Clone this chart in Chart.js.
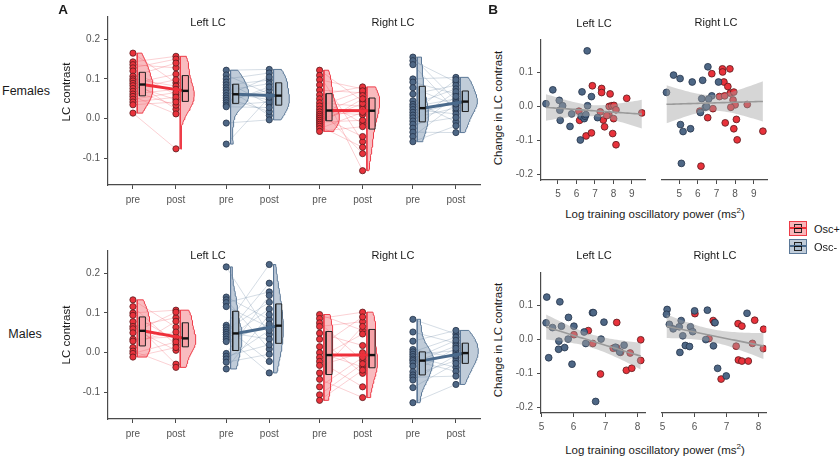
<!DOCTYPE html>
<html>
<head>
<meta charset="utf-8">
<script src="https://cdn.jsdelivr.net/npm/chart.js@4.4.1/dist/chart.umd.min.js"></script>
<style>
body { margin: 0; width: 840px; height: 459px; background: #fff; position: relative; overflow: hidden;
       font-family: "Liberation Sans", Arial, sans-serif; color: #1a1a1a; }
canvas { position: absolute; }
.t { position: absolute; white-space: nowrap; transform: translate(-50%, -50%); }
.r { transform: translate(-50%, -50%) rotate(-90deg); }
.l { position: absolute; white-space: nowrap; transform: translate(0, -50%); }
.facet { font-size: 11px; }
.ax { font-size: 11.5px; }
.tag { font-weight: bold; font-size: 13.5px; }
</style>
</head>
<body>
<canvas id="aTop" width="425" height="215" style="left:60px;top:0px"></canvas>
<canvas id="aBot" width="425" height="215" style="left:60px;top:234px"></canvas>
<canvas id="bTL" width="145" height="172" style="left:505px;top:30px"></canvas>
<canvas id="bTR" width="117" height="172" style="left:655px;top:30px"></canvas>
<canvas id="bBL" width="145" height="172" style="left:505px;top:263px"></canvas>
<canvas id="bBR" width="116" height="172" style="left:655px;top:263px"></canvas>

<div class="t tag" style="left:63px;top:9px">A</div>
<div class="t tag" style="left:493px;top:9px">B</div>
<div class="t" style="left:26px;top:91px;font-size:12.5px">Females</div>
<div class="t" style="left:25px;top:334px;font-size:12.5px">Males</div>
<div class="t r ax" style="left:66px;top:92px">LC contrast</div>
<div class="t r ax" style="left:66px;top:335px">LC contrast</div>
<div class="t facet" style="left:208px;top:22px">Left LC</div>
<div class="t facet" style="left:393px;top:22px">Right LC</div>
<div class="t facet" style="left:208px;top:255px">Left LC</div>
<div class="t facet" style="left:393px;top:255px">Right LC</div>
<div class="t facet" style="left:594px;top:23px">Left LC</div>
<div class="t facet" style="left:716px;top:22px">Right LC</div>
<div class="t facet" style="left:594px;top:255px">Left LC</div>
<div class="t facet" style="left:715px;top:255px">Right LC</div>
<div class="t r ax" style="left:498px;top:108px">Change in LC contrast</div>
<div class="t r ax" style="left:498px;top:340px">Change in LC contrast</div>
<div class="t ax" style="left:655px;top:213px">Log training oscillatory power (ms<sup style="font-size:8px">2</sup>)</div>
<div class="t ax" style="left:655px;top:449px">Log training oscillatory power (ms<sup style="font-size:8px">2</sup>)</div>

<div style="position:absolute;left:789px;top:221px;width:18px;height:15px;box-sizing:border-box;background:rgba(244,120,128,0.55);border:1px solid #ee3b47">
  <div style="position:absolute;left:4px;top:2px;width:8px;height:9px;box-sizing:border-box;border:1px solid #222;background:rgba(246,160,165,0.9)"></div>
  <div style="position:absolute;left:0px;top:5px;width:16px;height:2px;background:#ef2f3a"></div>
  <div style="position:absolute;left:4px;top:6px;width:8px;height:1px;background:#111"></div>
</div>
<div style="position:absolute;left:789px;top:239px;width:18px;height:15px;box-sizing:border-box;background:rgba(140,162,186,0.55);border:1px solid #5b7897">
  <div style="position:absolute;left:4px;top:2px;width:8px;height:9px;box-sizing:border-box;border:1px solid #222;background:rgba(170,187,205,0.9)"></div>
  <div style="position:absolute;left:0px;top:5px;width:16px;height:2px;background:#4a6a8c"></div>
  <div style="position:absolute;left:4px;top:6px;width:8px;height:1px;background:#111"></div>
</div>
<div class="l" style="left:814px;top:229px;font-size:11px">Osc+</div>
<div class="l" style="left:814px;top:247px;font-size:11px">Osc-</div>

<script>
// ---- panel A: LC contrast, pre / post, per subject (post listed in the same subject order as pre)
const femLeftPlusPre   = [0.165, 0.143, 0.136, 0.128, 0.120, 0.107, 0.100, 0.095, 0.089, 0.083, 0.076, 0.069, 0.062, 0.056, 0.049, 0.042, 0.035, 0.014];
const femLeftPlusPost  = [0.090, 0.157, 0.128, 0.150, 0.060, 0.140, 0.082, 0.024, 0.112, 0.048, 0.098, 0.034, 0.074, 0.012, 0.066, 0.054, 0.042, -0.076];
const femLeftMinusPre  = [0.122, 0.110, 0.100, 0.092, 0.085, 0.078, 0.072, 0.065, 0.058, 0.052, 0.046, 0.040, 0.034, 0.030, -0.011, -0.064];
const femLeftMinusPost = [0.124, 0.062, 0.115, 0.036, 0.097, 0.008, 0.088, 0.048, 0.105, 0.018, 0.072, 0.080, 0.042, 0.028, -0.003, 0.054];
const femRightPlusPre  = [0.122, 0.109, 0.098, 0.085, 0.072, 0.060, 0.050, 0.040, 0.032, 0.024, 0.017, 0.011, 0.006, 0.001, -0.004, -0.009, -0.014, -0.019, -0.025, -0.032];
const femRightPlusPost = [0.044, -0.058, 0.075, -0.131, 0.065, 0.080, -0.012, 0.031, 0.070, -0.088, 0.010, 0.058, -0.045, 0.024, 0.038, -0.004, 0.050, -0.072, 0.016, -0.020];
const femRightMinusPre = [0.155, 0.146, 0.136, 0.100, 0.092, 0.078, 0.062, 0.045, 0.036, 0.030, 0.023, 0.016, 0.009, 0.002, -0.006, -0.014, -0.024, -0.034, -0.045, -0.058];
const femRightMinusPost= [0.045, 0.092, 0.020, 0.104, 0.062, 0.033, 0.084, -0.008, 0.075, 0.050, 0.012, 0.098, 0.041, 0.027, 0.068, 0.003, 0.056, -0.035, 0.037, -0.018];

const malLeftPlusPre   = [0.133, 0.116, 0.100, 0.094, 0.078, 0.066, 0.060, 0.050, 0.034, 0.029, 0.013, 0.004, -0.002, -0.011];
const malLeftPlusPost  = [0.064, 0.020, 0.107, 0.032, -0.029, 0.088, 0.006, 0.102, 0.040, 0.052, 0.079, -0.037, 0.027, 0.013];
const malLeftMinusPre  = [0.216, 0.140, 0.133, 0.126, 0.116, 0.069, 0.063, 0.057, 0.051, 0.046, 0.040, 0.034, 0.028, -0.002, -0.009, -0.016, -0.024, -0.041];
const malLeftMinusPost = [0.046, 0.084, 0.009, 0.153, 0.064, 0.222, -0.022, 0.127, 0.034, 0.175, -0.051, 0.110, 0.072, 0.144, 0.020, 0.056, -0.004, 0.096];
const malRightPlusPre  = [0.096, 0.086, 0.075, 0.066, 0.049, 0.034, 0.015, 0.000, -0.012, -0.022, -0.032, -0.051, -0.067, -0.086, -0.106, -0.120];
const malRightPlusPost = [0.056, 0.102, -0.020, 0.078, 0.018, -0.052, 0.090, -0.036, 0.047, -0.086, 0.000, 0.066, -0.113, -0.012, -0.028, -0.044];
const malRightMinusPre = [0.084, 0.052, 0.029, 0.008, 0.002, -0.004, -0.010, -0.016, -0.020, -0.026, -0.034, -0.048, -0.056, -0.062, -0.069, -0.088, -0.126];
const malRightMinusPost= [0.047, 0.024, 0.056, -0.013, 0.039, 0.005, -0.037, 0.031, -0.047, 0.017, -0.001, 0.011, -0.020, -0.059, -0.007, -0.027, -0.080];

// ---- panel B: log training oscillatory power vs change in LC contrast
const femLeftPlusPow  = [6.13, 6.17, 6.52, 6.81, 6.86, 7.36, 7.36, 7.45, 7.52, 7.75, 7.82, 7.77, 7.91, 8.03, 8.01, 7.96, 8.14, 8.14, 8.72, 9.54, 7.29, 7.64];
const femLeftPlusChg  = [-0.014, -0.041, -0.087, -0.078, 0.061, 0.053, 0.041, -0.040, -0.060, -0.024, 0.037, 0.000, 0.002, 0.003, -0.036, -0.080, -0.113, -0.010, 0.024, -0.019, -0.016, -0.027];
const femLeftMinusPow = [4.35, 4.72, 5.07, 5.10, 5.25, 5.12, 5.65, 5.74, 6.21, 6.30, 6.58, 6.26, 6.42, 6.47, 6.60, 6.81, 6.51, 7.14];
const femLeftMinusChg = [0.008, 0.049, 0.018, -0.011, 0.002, -0.041, -0.059, -0.022, -0.099, 0.043, 0.164, -0.029, -0.036, -0.029, 0.002, 0.029, -0.024, -0.033];
const femRightPlusPow = [6.75, 7.32, 7.33, 7.72, 7.40, 7.61, 7.74, 7.93, 7.16, 7.44, 7.89, 8.00, 7.77, 8.65, 6.81, 6.11, 6.53, 7.47, 8.07, 7.93, 8.11, 9.49, 6.17];
const femRightPlusChg = [0.090, 0.104, 0.095, 0.104, 0.066, 0.053, 0.034, 0.037, 0.024, 0.026, 0.014, 0.000, -0.007, 0.001, -0.011, -0.018, -0.037, -0.052, -0.042, -0.069, -0.101, -0.076, -0.177];
const femRightMinusPow= [4.32, 4.70, 5.05, 5.70, 6.26, 6.54, 6.75, 6.58, 6.21, 6.40, 6.47, 6.14, 7.11, 5.07, 5.21, 5.61, 5.12];
const femRightMinusChg= [0.036, 0.086, 0.076, 0.066, 0.071, 0.110, 0.026, 0.017, 0.018, -0.007, -0.005, -0.022, 0.066, -0.057, -0.077, -0.069, -0.169];

const malLeftPlusPow  = [6.01, 6.46, 6.60, 6.84, 7.35, 7.24, 7.35, 7.47, 7.65, 7.77, 7.82, 8.10, 8.10];
const malLeftPlusChg  = [0.014, 0.026, -0.012, -0.102, 0.050, -0.026, -0.025, -0.038, -0.091, -0.040, -0.085, -0.001, -0.062];
const malLeftMinusPow = [5.16, 5.14, 5.22, 5.34, 5.57, 5.54, 5.53, 5.62, 5.72, 5.84, 5.83, 5.95, 6.01, 6.33, 6.38, 6.59, 6.62, 6.69, 6.86, 6.95, 7.31, 7.44, 7.58];
const malLeftMinusChg = [0.125, 0.049, -0.054, 0.035, 0.111, -0.005, -0.029, 0.039, -0.024, 0.065, 0.001, -0.073, 0.039, 0.022, -0.012, 0.079, 0.079, -0.183, 0.001, 0.051, -0.023, -0.037, -0.017];
const malRightPlusPow = [6.01, 6.45, 6.58, 6.62, 6.83, 7.36, 7.48, 7.30, 7.37, 7.48, 7.68, 7.88, 7.81, 8.16, 8.15];
const malRightPlusChg = [0.070, -0.002, 0.050, 0.044, -0.119, 0.041, 0.034, -0.024, -0.064, -0.067, -0.067, 0.051, -0.016, 0.025, -0.031];
const malRightMinusPow= [5.14, 5.12, 5.21, 5.33, 5.52, 5.58, 5.63, 5.54, 5.71, 5.84, 5.87, 5.94, 6.00, 6.40, 6.35, 6.59, 6.64, 6.72, 6.99, 7.64];
const malRightMinusChg= [0.082, 0.068, 0.039, 0.026, 0.032, 0.050, 0.006, -0.042, -0.022, -0.025, 0.032, 0.018, 0.078, 0.080, -0.005, -0.023, 0.044, -0.088, -0.110, 0.071];

// ---- axes
const sessionLabels = ["pre", "post", "pre", "post", "pre", "post", "pre", "post"];
const sessionPos = [0, 1, 2.17, 3.17, 4.34, 5.34, 6.51, 7.51];
const contrastTicks = [-0.1, 0.0, 0.1, 0.2];
const changeTicks = [-0.2, -0.1, 0.0, 0.1];
const powerTicksTop = [5, 6, 7, 8, 9];
const powerTicksBottom = [5, 6, 7, 8];

const RED = { pt: "#e8323b", ptBorder: "#5b1b1d", pair: "rgba(238,70,80,0.28)", mean: "#ef2f3a",
              vFill: "rgba(244,120,128,0.5)", vBorder: "#ee3b47", box: "rgba(246,160,165,0.9)" };
const BLUE = { pt: "#4e6785", ptBorder: "#24344a", pair: "rgba(100,128,160,0.30)", mean: "#4a6a8c",
               vFill: "rgba(140,162,186,0.55)", vBorder: "#5b7897", box: "rgba(170,187,205,0.9)" };

const FONT = "'Liberation Sans', Arial, sans-serif";
const AXIS = "#4a4a4a";
Chart.defaults.font.family = FONT;

function quantile(arr, p) {
    const s = [...arr].sort((a, b) => a - b);
    const h = (s.length - 1) * p, lo = Math.floor(h);
    const hi = Math.min(lo + 1, s.length - 1);
    return s[lo] + (h - lo) * (s[hi] - s[lo]);
}

// gaussian kde, trimmed to the data range (like geom_violin)
function density(vals) {
    const n = vals.length;
    const mean = vals.reduce((a, b) => a + b, 0) / n;
    const sd = Math.sqrt(vals.reduce((a, b) => a + (b - mean) ** 2, 0) / (n - 1));
    const iqr = quantile(vals, 0.75) - quantile(vals, 0.25);
    const bw = 0.9 * Math.min(sd, iqr / 1.34) * Math.pow(n, -0.2);
    const lo = Math.min(...vals), hi = Math.max(...vals);
    const out = [];
    for (let i = 0; i <= 60; i++) {
        const y = lo + (hi - lo) * i / 60;
        let d = 0;
        vals.forEach(v => { d += Math.exp(-0.5 * ((y - v) / bw) ** 2); });
        out.push({ y: y, d: d / (n * bw * Math.sqrt(2 * Math.PI)) });
    }
    return out;
}

function fixedTicks(list) {
    return function (scale) { scale.ticks = list.map(v => ({ value: v })); };
}

function createSessionChart(canvasId, groups) {
    const datasets = [];
    const series = [];
    groups.forEach(g => {
        series.push({ vals: g.pre, x: sessionPos[g.slot], col: g.col });
        series.push({ vals: g.post, x: sessionPos[g.slot + 1], col: g.col });
    });
    series.forEach(s => { s.dens = density(s.vals); });
    const maxDens = Math.max(...series.flatMap(s => s.dens.map(p => p.d)));

    series.forEach(s => {
        const base = s.x + 0.1;
        const last = s.dens[s.dens.length - 1].y;
        const outline = [{ x: base, y: s.dens[0].y }]
            .concat(s.dens.map(p => ({ x: base + p.d / maxDens * 0.42, y: p.y })))
            .concat([{ x: base, y: last }, { x: base, y: s.dens[0].y }]);
        datasets.push({ data: outline, showLine: true, fill: "shape", backgroundColor: s.col.vFill,
            borderColor: s.col.vBorder, borderWidth: 1, pointRadius: 0, order: 6 });

        const c = s.x + 0.22, q1 = quantile(s.vals, 0.25), q3 = quantile(s.vals, 0.75), med = quantile(s.vals, 0.5);
        datasets.push({ data: [{ x: c - 0.07, y: q1 }, { x: c + 0.07, y: q1 }, { x: c + 0.07, y: q3 }, { x: c - 0.07, y: q3 }, { x: c - 0.07, y: q1 }],
            showLine: true, fill: "shape", backgroundColor: s.col.box, borderColor: "#222", borderWidth: 1, pointRadius: 0, order: 1 });
        datasets.push({ data: [{ x: c - 0.07, y: med }, { x: c + 0.07, y: med }],
            showLine: true, borderColor: "#111", borderWidth: 2.4, pointRadius: 0, order: 0 });

        datasets.push({ data: s.vals.map(v => ({ x: s.x, y: v })), pointRadius: 3.1, pointBackgroundColor: s.col.pt,
            pointBorderColor: s.col.ptBorder, pointBorderWidth: 0.8, order: 3 });
    });

    groups.forEach(g => {
        const xp = sessionPos[g.slot], xq = sessionPos[g.slot + 1];
        const pairs = [];
        g.pre.forEach((v, k) => {
            pairs.push({ x: xp, y: v }, { x: xq, y: g.post[k] }, { x: xq, y: null });
        });
        datasets.push({ data: pairs, showLine: true, borderColor: g.col.pair, borderWidth: 0.9, pointRadius: 0, order: 5 });
        datasets.push({ data: [{ x: xp + 0.22, y: quantile(g.pre, 0.5) }, { x: xq + 0.22, y: quantile(g.post, 0.5) }],
            showLine: true, borderColor: g.col.mean, borderWidth: 3, pointRadius: 0, order: 2 });
    });

    return new Chart(document.getElementById(canvasId), {
        type: "scatter",
        data: { datasets: datasets },
        options: {
            responsive: false,
            animation: false,
            events: [],
            layout: { padding: { top: 17, right: 5, left: 0, bottom: 0 } },
            plugins: { legend: { display: false }, tooltip: { enabled: false } },
            scales: {
                x: {
                    type: "linear", min: -0.58, max: 8.07,
                    afterBuildTicks: fixedTicks(sessionPos),
                    afterFit: s => { s.height = 30; },
                    ticks: { callback: (v, i) => sessionLabels[i], color: "#555", font: { size: 10 }, padding: 5, maxRotation: 0, autoSkip: false },
                    grid: { drawOnChartArea: false, tickLength: 4, color: AXIS, lineWidth: 1 },
                    border: { color: AXIS, width: 1.2 }
                },
                y: {
                    min: -0.167, max: 0.256,
                    afterBuildTicks: fixedTicks(contrastTicks),
                    afterFit: s => { s.width = 48; },
                    ticks: { callback: v => v.toFixed(1), color: "#555", font: { size: 10 }, padding: 4 },
                    grid: { drawOnChartArea: false, tickLength: 4, color: AXIS, lineWidth: 1 },
                    border: { color: AXIS, width: 1.2 }
                }
            }
        }
    });
}

function linearFit(xs, ys) {
    const n = xs.length;
    const mx = xs.reduce((a, b) => a + b, 0) / n, my = ys.reduce((a, b) => a + b, 0) / n;
    let sxx = 0, sxy = 0;
    xs.forEach((x, i) => { sxx += (x - mx) ** 2; sxy += (x - mx) * (ys[i] - my); });
    const b = sxy / sxx, a = my - b * mx;
    let sse = 0;
    xs.forEach((x, i) => { sse += (ys[i] - a - b * x) ** 2; });
    const df = n - 2;
    return { a, b, mx, sxx, n, s: Math.sqrt(sse / df), t: 1.96 + 2.4 / df };
}

function createPowerChart(canvasId, plusX, plusY, minusX, minusY, xRange, xTicks, showY) {
    const allX = plusX.concat(minusX), allY = plusY.concat(minusY);
    const f = linearFit(allX, allY);
    const lo = Math.min(...allX), hi = Math.max(...allX);
    const fitLine = [], upper = [], lower = [];
    for (let i = 0; i <= 40; i++) {
        const x = lo + (hi - lo) * i / 40;
        const yhat = f.a + f.b * x;
        const se = f.s * Math.sqrt(1 / f.n + (x - f.mx) ** 2 / f.sxx);
        fitLine.push({ x, y: yhat });
        upper.push({ x, y: yhat + f.t * se });
        lower.push({ x, y: yhat - f.t * se });
    }
    const pointStyle = (col) => ({ pointRadius: 3.4, pointBackgroundColor: col.pt, pointBorderColor: col.ptBorder, pointBorderWidth: 0.8, order: 3 });

    return new Chart(document.getElementById(canvasId), {
        type: "scatter",
        data: {
            datasets: [
                Object.assign({ data: minusX.map((x, i) => ({ x, y: minusY[i] })) }, pointStyle(BLUE)),
                Object.assign({ data: plusX.map((x, i) => ({ x, y: plusY[i] })) }, pointStyle(RED)),
                { data: upper, showLine: true, borderWidth: 0, pointRadius: 0, order: 2 },
                { data: lower, showLine: true, borderWidth: 0, pointRadius: 0, fill: "-1", backgroundColor: "rgba(165,165,165,0.45)", order: 2 },
                { data: fitLine, showLine: true, borderColor: "#9a9a9a", borderWidth: 1.6, pointRadius: 0, order: 1 }
            ]
        },
        options: {
            responsive: false,
            animation: false,
            events: [],
            layout: { padding: { top: 7, right: 3, left: showY ? 0 : 7, bottom: 0 } },
            plugins: { legend: { display: false }, tooltip: { enabled: false } },
            scales: {
                x: {
                    type: "linear", min: xRange[0], max: xRange[1],
                    afterBuildTicks: fixedTicks(xTicks),
                    afterFit: s => { s.height = 22; },
                    ticks: { callback: v => String(v), color: "#555", font: { size: 10 }, padding: 4, maxRotation: 0, autoSkip: false },
                    grid: { drawOnChartArea: false, tickLength: 4, color: AXIS, lineWidth: 1 },
                    border: { color: AXIS, width: 1.2 }
                },
                y: {
                    display: showY,
                    min: -0.217, max: 0.196,
                    afterBuildTicks: fixedTicks(changeTicks),
                    afterFit: s => { if (showY) s.width = 36; },
                    ticks: { callback: v => v.toFixed(1), color: "#555", font: { size: 10 }, padding: 4 },
                    grid: { drawOnChartArea: false, tickLength: 4, color: AXIS, lineWidth: 1 },
                    border: { color: AXIS, width: 1.2 }
                }
            }
        }
    });
}

createSessionChart("aTop", [
    { pre: femLeftPlusPre, post: femLeftPlusPost, col: RED, slot: 0 },
    { pre: femLeftMinusPre, post: femLeftMinusPost, col: BLUE, slot: 2 },
    { pre: femRightPlusPre, post: femRightPlusPost, col: RED, slot: 4 },
    { pre: femRightMinusPre, post: femRightMinusPost, col: BLUE, slot: 6 }
]);
createSessionChart("aBot", [
    { pre: malLeftPlusPre, post: malLeftPlusPost, col: RED, slot: 0 },
    { pre: malLeftMinusPre, post: malLeftMinusPost, col: BLUE, slot: 2 },
    { pre: malRightPlusPre, post: malRightPlusPost, col: RED, slot: 4 },
    { pre: malRightMinusPre, post: malRightMinusPost, col: BLUE, slot: 6 }
]);

createPowerChart("bTL", femLeftPlusPow, femLeftPlusChg, femLeftMinusPow, femLeftMinusChg, [4.08, 9.72], powerTicksTop, true);
createPowerChart("bTR", femRightPlusPow, femRightPlusChg, femRightMinusPow, femRightMinusChg, [4.08, 9.72], powerTicksTop, false);
createPowerChart("bBL", malLeftPlusPow, malLeftPlusChg, malLeftMinusPow, malLeftMinusChg, [4.98, 8.24], powerTicksBottom, true);
createPowerChart("bBR", malRightPlusPow, malRightPlusChg, malRightMinusPow, malRightMinusChg, [4.98, 8.24], powerTicksBottom, false);
</script>
</body>
</html>
